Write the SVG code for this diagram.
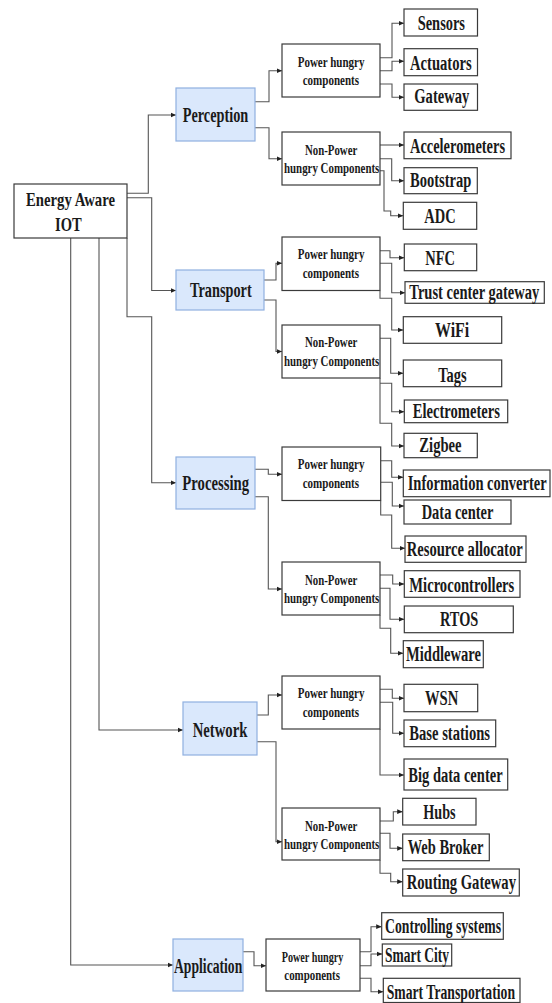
<svg xmlns="http://www.w3.org/2000/svg" width="552" height="1003" viewBox="0 0 552 1003">
<style>
.bg{fill:#ffffff}
.box{fill:#ffffff;stroke:#3a3a3a;stroke-width:1.2}
.layer{fill:#dae8fc;stroke:#8fb0e0;stroke-width:1.2}
.t{font-family:"Liberation Serif","Times New Roman",serif;font-weight:bold;fill:#1a1a1a}
.big{font-size:20.5px}
.mid{font-size:14.5px}
.root{font-size:19.5px}
.c{fill:none;stroke:#555555;stroke-width:1.1}
</style>
<defs>
<marker id="ah" markerUnits="userSpaceOnUse" markerWidth="6" markerHeight="6" refX="5.5" refY="3" orient="auto">
<path d="M0,0.6 L5.5,3 L0,5.4 Z" fill="#222222"/>
</marker>
</defs>
<rect class="bg" x="0" y="0" width="552" height="1003"/>

<g id="connectors">
<path class="c" marker-end="url(#ah)" d="M127,193.3 H148.3 V115 H176"/>
<path class="c" marker-end="url(#ah)" d="M127,197.7 H151.7 V290.5 H176"/>
<path class="c" marker-end="url(#ah)" d="M127,238 V316.7 H151.7 V482.7 H176"/>
<path class="c" marker-end="url(#ah)" d="M99,238 V730 H183"/>
<path class="c" marker-end="url(#ah)" d="M70.7,238 V965 H173"/>

<path class="c" marker-end="url(#ah)" d="M255,101.7 H269 V70.7 H282"/>
<path class="c" marker-end="url(#ah)" d="M255,127.7 H269 V158.7 H282"/>
<path class="c" marker-end="url(#ah)" d="M264,280 H276 V263.3 H282"/>
<path class="c" marker-end="url(#ah)" d="M264,300 H276 V351.5 H282"/>
<path class="c" marker-end="url(#ah)" d="M255,469.3 H268.3 V474.3 H282"/>
<path class="c" marker-end="url(#ah)" d="M255,496.7 H268.3 V589 H282"/>
<path class="c" marker-end="url(#ah)" d="M256.7,715 H268.3 V695 H282"/>
<path class="c" marker-end="url(#ah)" d="M256.7,741.7 H276 V841.7 H282"/>
<path class="c" marker-end="url(#ah)" d="M242.7,951.7 H254 V965.7 H266"/>

<path class="c" marker-end="url(#ah)" d="M380,57.7 H392 V23.3 H404"/>
<path class="c" marker-end="url(#ah)" d="M380,70.7 H392 V61.3 H404"/>
<path class="c" marker-end="url(#ah)" d="M380,84 H392 V97.3 H404"/>
<path class="c" marker-end="url(#ah)" d="M380,145 H404"/>
<path class="c" marker-end="url(#ah)" d="M380,158.7 H391.7 V180.7 H404"/>
<path class="c" marker-end="url(#ah)" d="M380,170.7 H384 V211 H390.7 V215.7 H403.3"/>

<path class="c" marker-end="url(#ah)" d="M380,250.7 H390 V257.7 H404.3"/>
<path class="c" marker-end="url(#ah)" d="M380,263.3 H391.7 V292.7 H405"/>
<path class="c" marker-end="url(#ah)" d="M380,290.7 V298.3 H391.7 V330 H403.3"/>
<path class="c" marker-end="url(#ah)" d="M380,338.3 H390.7 V373.3 H403.3"/>
<path class="c" marker-end="url(#ah)" d="M380,383.3 H391.7 V411.7 H404.3"/>
<path class="c" marker-end="url(#ah)" d="M380,378 V423.3 H391.7 V446 H404"/>

<path class="c" marker-end="url(#ah)" d="M380.7,460.7 H391.7 V477.3 H403.3"/>
<path class="c" marker-end="url(#ah)" d="M380.7,482.3 H392.3 V506 H404"/>
<path class="c" marker-end="url(#ah)" d="M380.7,500.7 V515 H391.7 V548.3 H405"/>
<path class="c" marker-end="url(#ah)" d="M380,575 H392.7 V584 H404.3"/>
<path class="c" marker-end="url(#ah)" d="M380,588.3 H390 V619.3 H404.3"/>
<path class="c" marker-end="url(#ah)" d="M380,615 V628.3 H390.7 V653.3 H403.3"/>

<path class="c" marker-end="url(#ah)" d="M380,689.3 H392.3 V698.3 H404"/>
<path class="c" marker-end="url(#ah)" d="M380,702.3 H392.7 V733.3 H404"/>
<path class="c" marker-end="url(#ah)" d="M380,729 V775 H404"/>
<path class="c" marker-end="url(#ah)" d="M380,821 H393.3 V811.7 H402.7"/>
<path class="c" marker-end="url(#ah)" d="M380,833.3 H390 V848.3 H402.7"/>
<path class="c" marker-end="url(#ah)" d="M380,860 V873.3 H390.7 V881.7 H402.7"/>

<path class="c" marker-end="url(#ah)" d="M360,951.7 H371 V926.7 H381.7"/>
<path class="c" marker-end="url(#ah)" d="M360,965.7 H371 V954 H382.3"/>
<path class="c" marker-end="url(#ah)" d="M360,978.3 H371 V991.7 H383.3"/>
</g>

<g id="root">
<rect class="box" x="14" y="184" width="113" height="54"/>
<text class="t root" x="26" y="205.5" textLength="89" lengthAdjust="spacingAndGlyphs">Energy Aware</text>
<text class="t root" x="55" y="231" textLength="26.7" lengthAdjust="spacingAndGlyphs">IOT</text>
</g>

<g id="perception"><rect class="layer" x="176" y="88" width="79" height="53"/><text class="t big" x="182.7" y="121.5" textLength="65.6" lengthAdjust="spacingAndGlyphs">Perception</text></g>
<g id="transport"><rect class="layer" x="176" y="270" width="88" height="40"/><text class="t big" x="190" y="296.5" textLength="61.7" lengthAdjust="spacingAndGlyphs">Transport</text></g>
<g id="processing"><rect class="layer" x="176" y="457" width="79" height="52"/><text class="t big" x="182.3" y="490" textLength="66.7" lengthAdjust="spacingAndGlyphs">Processing</text></g>
<g id="network"><rect class="layer" x="183" y="702" width="74" height="53"/><text class="t big" x="192.7" y="736.5" textLength="54.7" lengthAdjust="spacingAndGlyphs">Network</text></g>
<g id="application"><rect class="layer" x="173" y="939" width="70" height="52"/><text class="t big" x="174" y="972.5" textLength="68.3" lengthAdjust="spacingAndGlyphs">Application</text></g>

<g id="perception-ph"><rect class="box" x="282" y="44" width="98" height="53"/>
<text class="t mid" x="297.7" y="66.7" textLength="66.7" lengthAdjust="spacingAndGlyphs">Power hungry</text>
<text class="t mid" x="302.7" y="85" textLength="56.3" lengthAdjust="spacingAndGlyphs">components</text></g>
<g id="perception-nph"><rect class="box" x="282" y="132" width="98" height="53"/>
<text class="t mid" x="305" y="155" textLength="52.3" lengthAdjust="spacingAndGlyphs">Non-Power</text>
<text class="t mid" x="284" y="173.3" textLength="95.3" lengthAdjust="spacingAndGlyphs">hungry Components</text></g>
<g id="transport-ph"><rect class="box" x="282" y="237" width="98" height="53.5"/>
<text class="t mid" x="297.7" y="259.4" textLength="66.7" lengthAdjust="spacingAndGlyphs">Power hungry</text>
<text class="t mid" x="302.7" y="277.5" textLength="56.3" lengthAdjust="spacingAndGlyphs">components</text></g>
<g id="transport-nph"><rect class="box" x="282" y="325" width="98" height="53"/>
<text class="t mid" x="305" y="347" textLength="52.3" lengthAdjust="spacingAndGlyphs">Non-Power</text>
<text class="t mid" x="284" y="365.5" textLength="95.3" lengthAdjust="spacingAndGlyphs">hungry Components</text></g>
<g id="processing-ph"><rect class="box" x="282" y="447" width="98.7" height="53.5"/>
<text class="t mid" x="297.7" y="469.4" textLength="66.7" lengthAdjust="spacingAndGlyphs">Power hungry</text>
<text class="t mid" x="302.7" y="487.6" textLength="56.3" lengthAdjust="spacingAndGlyphs">components</text></g>
<g id="processing-nph"><rect class="box" x="282" y="562" width="98" height="53"/>
<text class="t mid" x="305" y="584.7" textLength="52.3" lengthAdjust="spacingAndGlyphs">Non-Power</text>
<text class="t mid" x="284" y="603" textLength="95.3" lengthAdjust="spacingAndGlyphs">hungry Components</text></g>
<g id="network-ph"><rect class="box" x="282" y="676" width="98" height="53"/>
<text class="t mid" x="297.7" y="698.4" textLength="66.7" lengthAdjust="spacingAndGlyphs">Power hungry</text>
<text class="t mid" x="302.7" y="716.6" textLength="56.3" lengthAdjust="spacingAndGlyphs">components</text></g>
<g id="network-nph"><rect class="box" x="282" y="808" width="98" height="52"/>
<text class="t mid" x="305" y="830.5" textLength="52.3" lengthAdjust="spacingAndGlyphs">Non-Power</text>
<text class="t mid" x="284" y="848.8" textLength="95.3" lengthAdjust="spacingAndGlyphs">hungry Components</text></g>
<g id="application-ph"><rect class="box" x="266" y="939" width="94" height="52"/>
<text class="t mid" x="281.7" y="961.7" textLength="61.7" lengthAdjust="spacingAndGlyphs">Power hungry</text>
<text class="t mid" x="284.3" y="980" textLength="55.7" lengthAdjust="spacingAndGlyphs">components</text></g>

<g id="sensors"><rect class="box" x="404" y="9" width="73.5" height="27"/><text class="t big" x="417.7" y="30" textLength="47.3" lengthAdjust="spacingAndGlyphs">Sensors</text></g>
<g id="actuators"><rect class="box" x="404" y="48.7" width="73.5" height="27"/><text class="t big" x="410" y="70" textLength="61.7" lengthAdjust="spacingAndGlyphs">Actuators</text></g>
<g id="gateway"><rect class="box" x="404" y="84" width="73.5" height="26.3"/><text class="t big" x="414.3" y="103" textLength="55" lengthAdjust="spacingAndGlyphs">Gateway</text></g>
<g id="accelerometers"><rect class="box" x="404" y="132" width="107" height="26.7"/><text class="t big" x="410" y="153.3" textLength="95" lengthAdjust="spacingAndGlyphs">Accelerometers</text></g>
<g id="bootstrap"><rect class="box" x="404" y="167.7" width="73.3" height="26"/><text class="t big" x="410" y="187" textLength="61.3" lengthAdjust="spacingAndGlyphs">Bootstrap</text></g>
<g id="adc"><rect class="box" x="403.3" y="202.3" width="73.4" height="27"/><text class="t big" x="424.3" y="222.5" textLength="31.3" lengthAdjust="spacingAndGlyphs">ADC</text></g>
<g id="nfc"><rect class="box" x="404.3" y="244" width="72.4" height="26.7"/><text class="t big" x="425.3" y="265" textLength="29.7" lengthAdjust="spacingAndGlyphs">NFC</text></g>
<g id="trust"><rect class="box" x="405" y="281.7" width="139.3" height="21.6"/><text class="t big" x="409.3" y="299" textLength="130" lengthAdjust="spacingAndGlyphs">Trust center gateway</text></g>
<g id="wifi"><rect class="box" x="403.3" y="316.7" width="98.4" height="26.6"/><text class="t big" x="435" y="337.3" textLength="34.3" lengthAdjust="spacingAndGlyphs">WiFi</text></g>
<g id="tags"><rect class="box" x="403.3" y="360" width="98.4" height="26.7"/><text class="t big" x="438.3" y="381.5" textLength="28.3" lengthAdjust="spacingAndGlyphs">Tags</text></g>
<g id="electrometers"><rect class="box" x="404.3" y="400" width="103.4" height="22.7"/><text class="t big" x="412.7" y="418.3" textLength="87.3" lengthAdjust="spacingAndGlyphs">Electrometers</text></g>
<g id="zigbee"><rect class="box" x="404" y="433.3" width="73.3" height="24.4"/><text class="t big" x="419.3" y="451.7" textLength="42.3" lengthAdjust="spacingAndGlyphs">Zigbee</text></g>
<g id="infoconv"><rect class="box" x="403.3" y="470" width="146.7" height="26.7"/><text class="t big" x="407.7" y="490" textLength="139" lengthAdjust="spacingAndGlyphs">Information converter</text></g>
<g id="datacenter"><rect class="box" x="404" y="500" width="107" height="24"/><text class="t big" x="421.7" y="519" textLength="71.7" lengthAdjust="spacingAndGlyphs">Data center</text></g>
<g id="resalloc"><rect class="box" x="405" y="536" width="121" height="26.3"/><text class="t big" x="406.7" y="556" textLength="116" lengthAdjust="spacingAndGlyphs">Resource allocator</text></g>
<g id="microcontrollers"><rect class="box" x="404.3" y="570.7" width="115.7" height="26.6"/><text class="t big" x="409.3" y="591.7" textLength="105" lengthAdjust="spacingAndGlyphs">Microcontrollers</text></g>
<g id="rtos"><rect class="box" x="404.3" y="606" width="109" height="26.7"/><text class="t big" x="440" y="626" textLength="38.3" lengthAdjust="spacingAndGlyphs">RTOS</text></g>
<g id="middleware"><rect class="box" x="403.3" y="640.7" width="80" height="27"/><text class="t big" x="406" y="661" textLength="75" lengthAdjust="spacingAndGlyphs">Middleware</text></g>
<g id="wsn"><rect class="box" x="404" y="684.3" width="73.7" height="27.4"/><text class="t big" x="425" y="705" textLength="33.3" lengthAdjust="spacingAndGlyphs">WSN</text></g>
<g id="basestations"><rect class="box" x="404" y="720" width="91.7" height="26.7"/><text class="t big" x="409.3" y="740" textLength="80.7" lengthAdjust="spacingAndGlyphs">Base stations</text></g>
<g id="bigdata"><rect class="box" x="404" y="759" width="103.7" height="31"/><text class="t big" x="408.3" y="781.7" textLength="94.3" lengthAdjust="spacingAndGlyphs">Big data center</text></g>
<g id="hubs"><rect class="box" x="402.7" y="798.3" width="73.3" height="26.7"/><text class="t big" x="423.3" y="819.3" textLength="32.3" lengthAdjust="spacingAndGlyphs">Hubs</text></g>
<g id="webbroker"><rect class="box" x="402.7" y="834" width="86.6" height="26.7"/><text class="t big" x="407.7" y="854.3" textLength="75.7" lengthAdjust="spacingAndGlyphs">Web Broker</text></g>
<g id="routing"><rect class="box" x="402.7" y="869" width="116.6" height="27"/><text class="t big" x="406.7" y="889.3" textLength="109.3" lengthAdjust="spacingAndGlyphs">Routing Gateway</text></g>
<g id="controlling"><rect class="box" x="381.7" y="912.7" width="121.6" height="26.6"/><text class="t big" x="385" y="932.7" textLength="116" lengthAdjust="spacingAndGlyphs">Controlling systems</text></g>
<g id="smartcity"><rect class="box" x="382.3" y="944" width="69.4" height="22"/><text class="t big" x="385" y="961.7" textLength="64" lengthAdjust="spacingAndGlyphs">Smart City</text></g>
<g id="smarttransport"><rect class="box" x="383.3" y="978.3" width="136.7" height="24.2"/><text class="t big" x="386.7" y="999.3" textLength="128.3" lengthAdjust="spacingAndGlyphs">Smart Transportation</text></g>
</svg>
